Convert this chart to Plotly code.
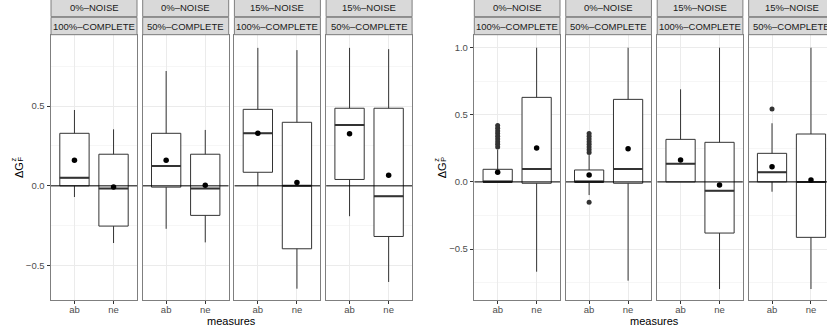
import plotly.graph_objects as go

W, H = 827, 331

# Facet labels and categories
measures = ["ab", "ne"]
noise = ["0%–NOISE", "0%–NOISE", "15%–NOISE", "15%–NOISE"]
complete = ["100%–COMPLETE", "50%–COMPLETE", "100%–COMPLETE", "50%–COMPLETE"]

# ΔG^z_F box statistics, one [ab, ne] pair per facet
f_lower = [[-0.07, -0.358], [-0.269, -0.354], [0.0, -0.644], [-0.19, -0.602]]
f_q1 = [[0.0, -0.252], [-0.008, -0.185], [0.085, -0.394], [0.04, -0.317]]
f_median = [[0.05, -0.017], [0.125, -0.017], [0.329, 0.0], [0.381, -0.065]]
f_q3 = [[0.329, 0.198], [0.329, 0.198], [0.479, 0.398], [0.486, 0.486]]
f_upper = [[0.475, 0.354], [0.719, 0.35], [0.864, 0.85], [0.864, 0.856]]
f_mean = [[0.16, -0.008], [0.16, 0.004], [0.329, 0.021], [0.327, 0.067]]
f_outliers = [[], [], [], []]

# ΔG^z_P box statistics
p_lower = [[0.0, -0.669], [-0.098, -0.736], [0.0, -0.798], [-0.073, -0.798]]
p_q1 = [[0.0, -0.01], [0.0, -0.01], [0.0, -0.381], [0.0, -0.413]]
p_median = [[0.0, 0.096], [0.0, 0.096], [0.136, -0.066], [0.072, 0.0]]
p_q3 = [[0.094, 0.630], [0.089, 0.615], [0.317, 0.295], [0.213, 0.357]]
p_upper = [[0.24, 1.0], [0.2, 1.0], [0.69, 1.0], [0.437, 1.0]]
p_mean = [[0.072, 0.253], [0.051, 0.247], [0.163, -0.023], [0.113, 0.014]]
# outliers of the "ab" measure per facet
p_outliers = [
    [0.26, 0.28, 0.30, 0.32, 0.34, 0.36, 0.38, 0.40, 0.42],
    [0.22, 0.24, 0.26, 0.28, 0.30, 0.32, 0.34, 0.36, -0.152],
    [],
    [0.543],
]

FONT = "Liberation Sans, Arial, Helvetica, sans-serif"
BORDER = "#7f7f7f"
GRID = "#ebebeb"
MINOR = "#f6f6f6"
INK = "#333333"

PANEL_TOP, PANEL_BOT = 35.0, 300.3
STRIP1 = (-1.0, 16.7)
STRIP2 = (17.3, 34.7)


def px(v):
    return v / W


def py(v):
    return 1 - v / H


charts = [
    dict(lower=f_lower, q1=f_q1, median=f_median, q3=f_q3, upper=f_upper,
         mean=f_mean, outliers=f_outliers, left=51.0, width=86.0, gap=5.7,
         yrange=[-0.7167, 0.9446], ticks=[-0.5, 0.0, 0.5],
         minor=[-0.25, 0.25, 0.75], sub="F"),
    dict(lower=p_lower, q1=p_q1, median=p_median, q3=p_q3, upper=p_upper,
         mean=p_mean, outliers=p_outliers, left=474.3, width=85.7, gap=5.75,
         yrange=[-0.882, 1.0946], ticks=[-0.5, 0.0, 0.5, 1.0],
         minor=[-0.75, -0.25, 0.25, 0.75], sub="P"),
]

fig = go.Figure()
layout = dict(
    width=W, height=H, margin=dict(l=0, r=0, t=0, b=0),
    paper_bgcolor="white", plot_bgcolor="white", showlegend=False,
    font=dict(family=FONT, size=10, color="#4d4d4d"),
)
shapes, annotations = [], []
BOX_W = 0.75

k = 0
for c in charts:
    for f in range(4):
        k += 1
        xn = "x" if k == 1 else f"x{k}"
        yn = "y" if k == 1 else f"y{k}"
        x0 = c["left"] + f * (c["width"] + c["gap"])
        x1_full = x0 + c["width"]
        x1 = min(x1_full, W)
        xr = [0.4, 0.4 + 2.2 * (x1 - x0) / c["width"]]
        clipped = x1 < x1_full
        first = f == 0

        layout["xaxis" if k == 1 else f"xaxis{k}"] = dict(
            domain=[px(x0), px(x1)], range=xr, anchor=yn,
            tickvals=[1, 2], ticktext=measures,
            showgrid=True, gridcolor=GRID, gridwidth=1,
            showline=True, linecolor=BORDER, linewidth=1, mirror=True,
            ticks="outside", ticklen=3, tickcolor=INK, tickwidth=1,
            ticklabelstandoff=-3,
            tickfont=dict(size=9.5, color="#4d4d4d", family=FONT),
            zeroline=False, fixedrange=True,
        )
        layout["yaxis" if k == 1 else f"yaxis{k}"] = dict(
            domain=[py(PANEL_BOT), py(PANEL_TOP)], range=c["yrange"], anchor=xn,
            tickvals=c["ticks"],
            ticktext=[("%.1f" % t).replace("-", "−") for t in c["ticks"]],
            showticklabels=first, ticks="outside" if first else "",
            ticklen=3.5, tickcolor=INK, tickwidth=1,
            tickfont=dict(size=9.5, color="#4d4d4d", family=FONT),
            showgrid=True, gridcolor=GRID, gridwidth=1,
            minor=dict(tickvals=c["minor"], showgrid=True, gridcolor=MINOR,
                       gridwidth=1, ticks=""),
            showline=True, linecolor=BORDER, linewidth=1,
            mirror=not clipped, zeroline=False, fixedrange=True,
        )

        pos = [1, 2]
        fig.add_trace(go.Box(
            x=pos, q1=c["q1"][f], median=c["median"][f], q3=c["q3"][f],
            lowerfence=c["lower"][f], upperfence=c["upper"][f],
            width=BOX_W, whiskerwidth=0, fillcolor="white",
            line=dict(color=INK, width=1), boxpoints=False,
            xaxis=xn, yaxis=yn, hoverinfo="skip",
        ))
        # thicker median bars
        mx, my = [], []
        for p, m in zip(pos, c["median"][f]):
            mx += [p - BOX_W / 2, p + BOX_W / 2, None]
            my += [m, m, None]
        fig.add_trace(go.Scatter(
            x=mx, y=my, mode="lines", line=dict(color=INK, width=2),
            xaxis=xn, yaxis=yn, hoverinfo="skip",
        ))
        # horizontal reference line at zero
        fig.add_trace(go.Scatter(
            x=[0.4, 2.6], y=[0, 0], mode="lines",
            line=dict(color="black", width=1),
            xaxis=xn, yaxis=yn, hoverinfo="skip",
        ))
        if c["outliers"][f]:
            fig.add_trace(go.Scatter(
                x=[1] * len(c["outliers"][f]), y=c["outliers"][f],
                mode="markers", marker=dict(color=INK, size=5),
                xaxis=xn, yaxis=yn, hoverinfo="skip",
            ))
        fig.add_trace(go.Scatter(
            x=pos, y=c["mean"][f], mode="markers",
            marker=dict(color="black", size=5.5),
            xaxis=xn, yaxis=yn, hoverinfo="skip",
        ))

        # facet strips
        for (s0, s1), label in ((STRIP1, noise[f]), (STRIP2, complete[f])):
            shapes.append(dict(
                type="rect", xref="paper", yref="paper",
                x0=px(x0), x1=px(x1_full), y0=py(s1), y1=py(s0),
                fillcolor="#d9d9d9", line=dict(color=BORDER, width=1),
                layer="above",
            ))
            annotations.append(dict(
                text=label, xref="paper", yref="paper",
                x=px((x0 + x1_full) / 2), y=py((s0 + s1) / 2),
                xanchor="center", yanchor="middle", showarrow=False,
                font=dict(size=9.5, color="#1a1a1a", family=FONT),
            ))

    # axis titles of this chart
    left = c["left"]
    right_edge = left + 4 * c["width"] + 3 * c["gap"]
    annotations.append(dict(
        text="measures", xref="paper", yref="paper",
        x=px((left + right_edge) / 2), y=py(321), xanchor="center",
        yanchor="middle", showarrow=False,
        font=dict(size=11, color="black", family=FONT),
    ))
    lx = left - 32.5
    annotations.append(dict(
        text="ΔG", xref="paper", yref="paper", x=px(lx), y=py(170.5),
        xanchor="center", yanchor="middle", textangle=-90, showarrow=False,
        font=dict(size=11, color="black", family=FONT),
    ))
    annotations.append(dict(
        text="z", xref="paper", yref="paper", x=px(lx - 5.5), y=py(159.5),
        xanchor="center", yanchor="middle", textangle=-90, showarrow=False,
        font=dict(size=7.5, color="black", family=FONT),
    ))
    annotations.append(dict(
        text=c["sub"], xref="paper", yref="paper", x=px(lx + 1.5), y=py(159.5),
        xanchor="center", yanchor="middle", textangle=-90, showarrow=False,
        font=dict(size=7.5, color="black", family=FONT),
    ))

layout["shapes"] = shapes
layout["annotations"] = annotations
fig.update_layout(**layout)
fig.write_html("out.html")
